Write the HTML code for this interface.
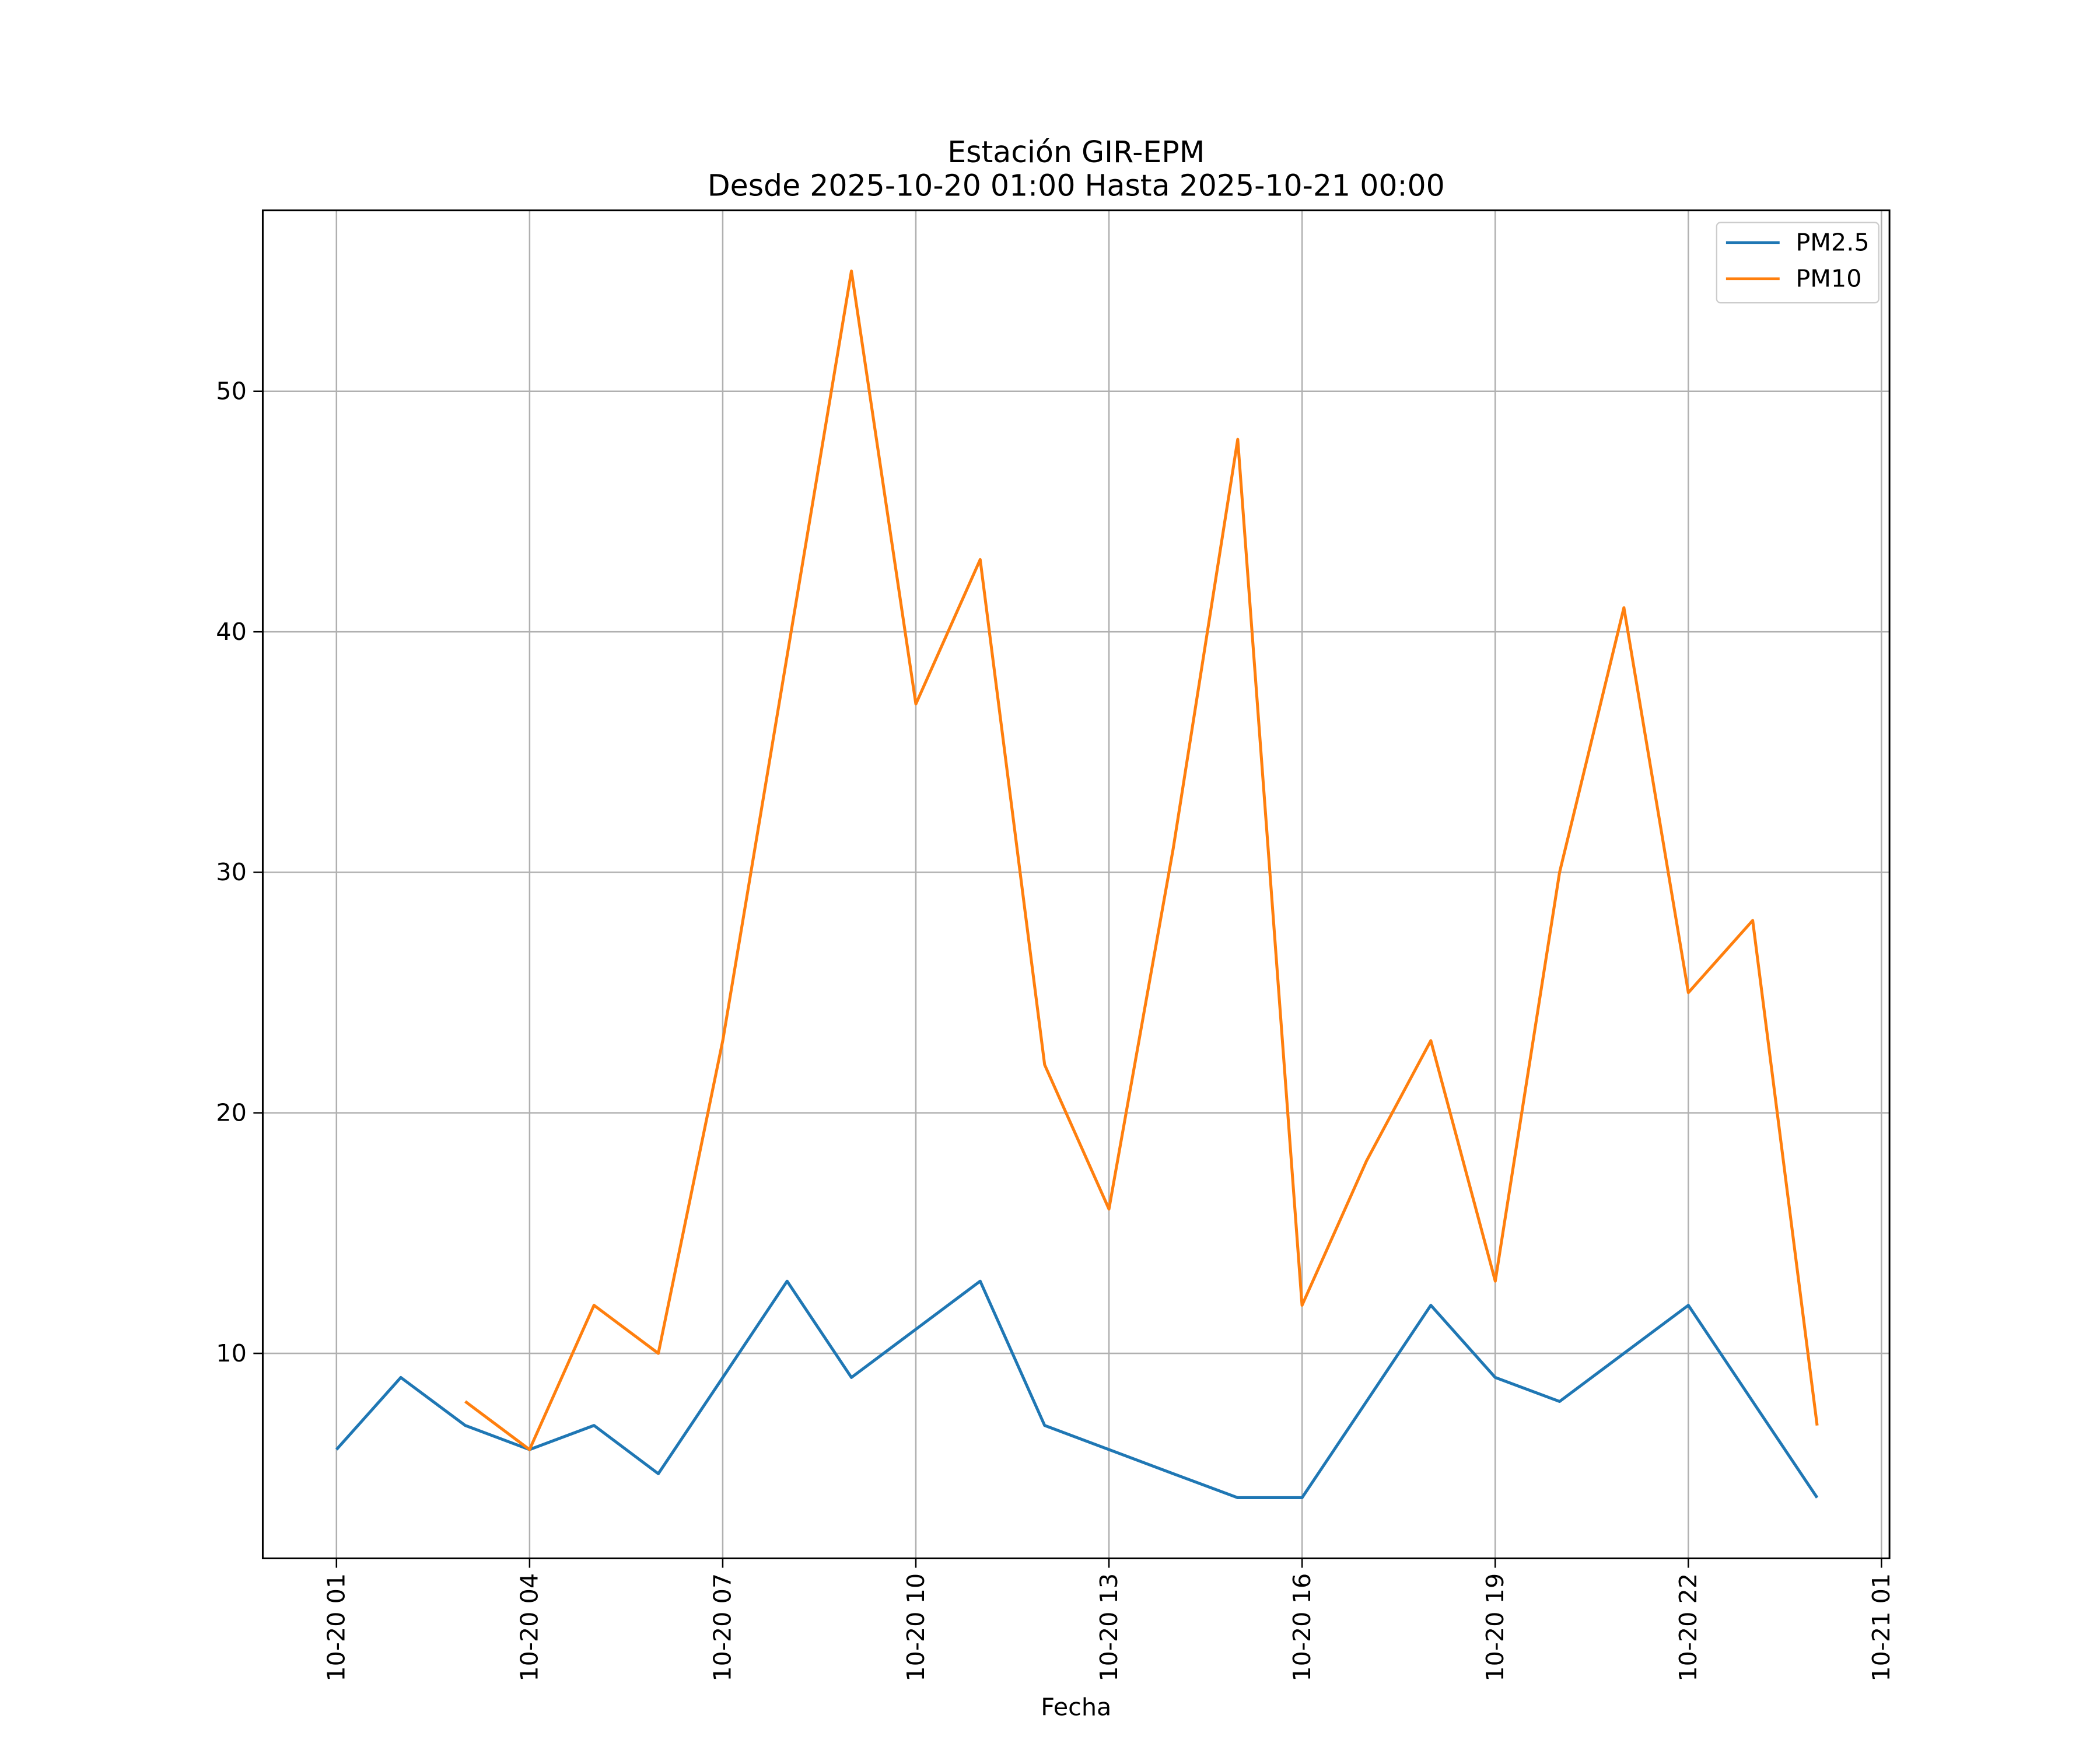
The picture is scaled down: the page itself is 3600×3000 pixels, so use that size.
<!DOCTYPE html>
<html><head><meta charset="utf-8"><style>
html,body{margin:0;padding:0;background:#fff;}
svg{display:block;}
text{font-family:"DejaVu Sans","Liberation Sans",sans-serif;fill:#000;}
</style></head><body>
<svg id="chart" width="3600" height="3000" viewBox="0 0 1567 1306" xmlns="http://www.w3.org/2000/svg">
<rect width="1567" height="1306" fill="#fff"/>
<text x="803" y="121" font-size="22" text-anchor="middle">Estación GIR-EPM</text>
<text x="803" y="146" font-size="22" text-anchor="middle">Desde 2025-10-20 01:00 Hasta 2025-10-21 00:00</text>
<g id="grid"></g>
<g id="series"></g>
<rect x="196" y="157" width="1214" height="1006" fill="none" stroke="#000" stroke-width="1.3"/>
<g id="ticks"></g>
<text x="803" y="1280" font-size="18" text-anchor="middle">Fecha</text>
<g>
<rect x="1281" y="166" width="121" height="60" rx="3" fill="#fff" stroke="#ccc" stroke-width="1"/>
<g><line x1="1288" y1="181" x2="1328" y2="181" stroke="#1f77b4" stroke-width="2"/><text x="1340" y="187" font-size="18">PM2.5</text></g>
<g><line x1="1288" y1="208" x2="1328" y2="208" stroke="#ff7f0e" stroke-width="2"/><text x="1340" y="214" font-size="18">PM10</text></g>
</g>
</svg>
<script>
const hours = [1,2,3,4,5,6,7,8,9,10,11,12,13,14,15,16,17,18,19,20,21,22,23,24];
const pm25 = [6,9,7,6,7,5,9,13,9,11,13,7,6,5,4,4,8,12,9,8,10,12,8,4];
const pm10 = [null,null,8,6,12,10,23,39,55,37,43,22,16,31,48,12,18,23,13,30,41,25,28,7];
const xTickHours = [1,4,7,10,13,16,19,22,25];
const xTickLabels = ["10-20 01","10-20 04","10-20 07","10-20 10","10-20 13","10-20 16","10-20 19","10-20 22","10-21 01"];
const yTicks = [10,20,30,40,50];

const NS="http://www.w3.org/2000/svg";
function xs(h){return 251+(h-1)*(1404-251)/24;}
function ys(v){return 1010-(v-10)*(1010-292)/40;}
function mk(t,a,p){const e=document.createElementNS(NS,t);for(const k in a)e.setAttribute(k,a[k]);p.appendChild(e);return e;}
const grid=document.getElementById('grid'),ticks=document.getElementById('ticks'),series=document.getElementById('series');

xTickHours.forEach((h,i)=>{
  const x=xs(h);
  const g=mk('line',{x1:x,y1:157,x2:x,y2:1163,stroke:'#b0b0b0','stroke-width':1.1},grid);
  
  
  const t=mk('line',{x1:x,y1:1163,x2:x,y2:1170,stroke:'#000','stroke-width':1.1},ticks);
  
  
  const l=mk('text',{x:0,y:0,'font-size':18,'text-anchor':'end',transform:`translate(${x+6},1174) rotate(-90)`},ticks);
  l.textContent=xTickLabels[i];
  
  
});
yTicks.forEach(v=>{
  const y=ys(v);
  const g=mk('line',{x1:196,y1:y,x2:1410,y2:y,stroke:'#b0b0b0','stroke-width':1.1},grid);
  
  
  const t=mk('line',{x1:189,y1:y,x2:196,y2:y,stroke:'#000','stroke-width':1.1},ticks);
  
  
  const l=mk('text',{x:184,y:y+6,'font-size':18,'text-anchor':'end'},ticks);
  l.textContent=v;
  
  
});
function path(vals){let d='',pen=false;vals.forEach((v,i)=>{if(v==null){pen=false;return;}d+=(pen?'L':'M')+xs(hours[i]).toFixed(1)+' '+ys(v).toFixed(1);pen=true;});return d;}
const p1=mk('path',{d:path(pm25),fill:'none',stroke:'#1f77b4','stroke-width':2.2,'stroke-linejoin':'round'},series);


const p2=mk('path',{d:path(pm10),fill:'none',stroke:'#ff7f0e','stroke-width':2.2,'stroke-linejoin':'round'},series);


</script>
</body></html>
